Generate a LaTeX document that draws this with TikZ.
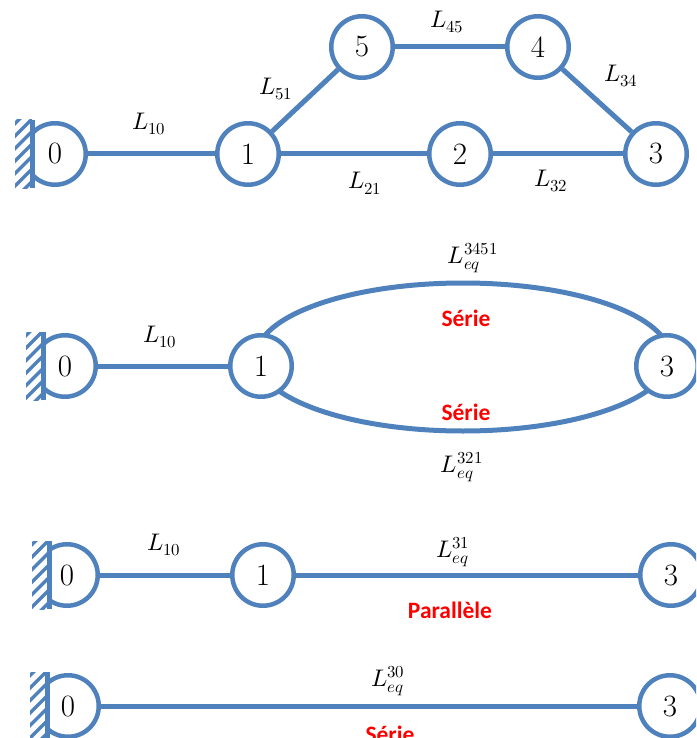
\documentclass[tikz,border=0pt]{standalone}
\usepackage{fontspec}
\usepackage{unicode-math}
\newfontfamily\calibri{Carlito}
\definecolor{blu}{RGB}{79,129,189}
\begin{document}
\begin{tikzpicture}[x=1pt,y=-1pt,
  nd/.style={circle,draw=blu,line width=4.5pt,fill=white,minimum size=61.5pt,inner sep=0pt,font=\fontsize{31}{31}\selectfont},
  ln/.style={draw=blu,line width=5pt},
  lab/.style={inner sep=0pt,font=\fontsize{24}{28}\selectfont},
  rlab/.style={inner sep=0pt,text=red,font=\calibri\bfseries\fontsize{23.5}{26}\selectfont},
  wall/.pic={
    \fill[white] (-18,-34) rectangle (0,34);
    \begin{scope}
      \clip (-17,-34) rectangle (0,34);
      \foreach \k in {-6,...,6} \draw[blu,line width=3.5pt] (-22,\k*12.5+12) -- ++(26,-26);
    \end{scope}
    \draw[blu,line width=5pt] (0,-34) -- (0,34);
  }]
\useasboundingbox (0,0) rectangle (696,738);
\clip (0,0) rectangle (696,738);

% ---------- row 1 ----------
\node[nd] (a0) at (55,154) {0};
\node[nd] (a1) at (248,154) {1};
\node[nd] (a2) at (460,154) {2};
\node[nd] (a3) at (656,154) {3};
\node[nd] (a5) at (362,47) {5};
\node[nd] (a4) at (538,47) {4};
\draw[ln] (a0) -- (a1);
\draw[ln] (a1) -- (a2);
\draw[ln] (a2) -- (a3);
\draw[ln] (a1) -- (a5);
\draw[ln] (a5) -- (a4);
\draw[ln] (a4) -- (a3);
\pic at (32,154) {wall};
\node[lab] (la10) at (149,124) {$L_{10}$};
\node[lab] (la51) at (276,89) {$L_{51}$};
\node[lab] (la45) at (447,22) {$L_{45}$};
\node[lab] (la34) at (621,76) {$L_{34}$};
\node[lab] (la21) at (365,183) {$L_{21}$};
\node[lab] (la32) at (551,181) {$L_{32}$};

% ---------- row 2 ----------
\draw[ln] (463,357) ellipse [x radius=207pt, y radius=74pt];
\node[nd] (b0) at (65,366) {0};
\node[nd] (b1) at (261,366) {1};
\node[nd] (b3) at (667,366) {3};
\draw[ln] (b0) -- (b1);
\pic at (43,366) {wall};
\node[lab] (lb10) at (160,337) {$L_{10}$};
\node[lab] (lb3451) at (473,258) {$L_{eq}^{3451}$};
\node[rlab] (sb1) at (466,318) {Série};
\node[rlab] (sb2) at (466,412) {Série};
\node[lab] (lb321) at (462,467) {$L_{eq}^{321}$};

% ---------- row 3 ----------
\node[nd] (c0) at (67,575) {0};
\node[nd] (c1) at (263,575) {1};
\node[nd] (c3) at (671,575) {3};
\draw[ln] (c0) -- (c1);
\draw[ln] (c1) -- (c3);
\pic at (49,575) {wall};
\node[lab] (lc10) at (164,545) {$L_{10}$};
\node[lab] (lc31) at (453,552) {$L_{eq}^{31}$};
\node[rlab] (pc) at (450,610) {Parallèle};

% ---------- row 4 ----------
\node[nd] (d0) at (68,706) {0};
\node[nd] (d3) at (670,706) {3};
\draw[ln] (d0) -- (d3);
\pic at (47,706) {wall};
\node[lab] (ld30) at (388,681) {$L_{eq}^{30}$};
\node[rlab] (sd) at (390,734) {Série};
\end{tikzpicture}
\end{document}
